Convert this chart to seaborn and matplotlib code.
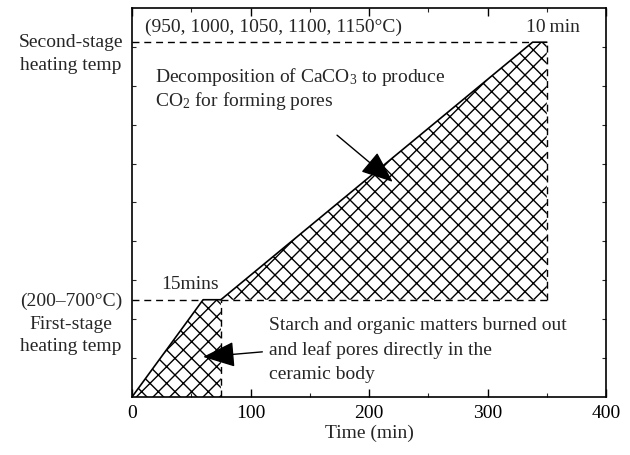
import matplotlib
matplotlib.use("Agg")
import matplotlib.pyplot as plt
import seaborn as sns
import pandas as pd

# ---- data (schematic heating profile) ----
t_stage1 = [0, 60, 75]          # min
T_stage1 = [0, 250, 250]        # schematic temperature level
t_stage2 = [75, 338, 350]
T_stage2 = [250, 912, 912]

x_ticks = [0, 100, 200, 300, 400]
x_minor = [50, 150, 250, 350]
y_ticks = [100, 200, 300, 400, 500, 600, 700, 800, 900]

sns.set_theme(style="ticks")
plt.rcParams["font.family"] = ["Liberation Serif", "DejaVu Serif"]
plt.rcParams["mathtext.fontset"] = "custom"
plt.rcParams["mathtext.rm"] = "Liberation Serif"
plt.rcParams["mathtext.it"] = "Liberation Serif:italic"
plt.rcParams["hatch.linewidth"] = 1.0
plt.rcParams["hatch.color"] = "black"

fig = plt.figure(figsize=(6.3, 4.55), dpi=100)
ax = fig.add_axes([0.2095, 0.1275, 0.7525, 0.855])

# hatched regions
ax.fill_between(t_stage1, 0, T_stage1, facecolor="none", edgecolor="black",
                hatch="xx", linewidth=0)
ax.fill_between(t_stage2, T_stage2[0], T_stage2, facecolor="none",
                edgecolor="black", hatch="xx", linewidth=0)

# solid ramp lines
df1 = pd.DataFrame({"t": t_stage1, "T": T_stage1})
df2 = pd.DataFrame({"t": t_stage2, "T": T_stage2})
sns.lineplot(data=df1, x="t", y="T", ax=ax, color="black", lw=1.2,
             sort=False, estimator=None)
sns.lineplot(data=df2, x="t", y="T", ax=ax, color="black", lw=1.2,
             sort=False, estimator=None)

# dashed guide lines
dash = dict(color="black", lw=1.0, ls=(0, (5, 3.5)))
ax.plot([0, t_stage1[1]], [T_stage1[1], T_stage1[1]], **dash)
ax.plot([t_stage1[2], t_stage1[2]], [0, T_stage1[2]], **dash)
ax.plot([t_stage2[0], t_stage2[2]], [T_stage2[0], T_stage2[0]], **dash)
ax.plot([t_stage2[2], t_stage2[2]], [T_stage2[0], T_stage2[2]], **dash)
ax.plot([0, t_stage2[1]], [T_stage2[1], T_stage2[1]], **dash)

ax.set_xlim(0, 400)
ax.set_ylim(0, 1000)
ax.set_xticks(x_ticks)
ax.set_xticks(x_minor, minor=True)
ax.set_yticks(y_ticks)
ax.set_yticklabels([])
ax.set_xlabel("Time (min)", fontsize=14, labelpad=2)
ax.set_ylabel("")
ax.tick_params(axis="x", which="major", direction="in", length=6, width=1,
               labelsize=14, top=True, pad=6, colors="black")
ax.tick_params(axis="x", which="minor", direction="in", length=3, width=0.8,
               top=True)
ax.tick_params(axis="y", which="major", direction="in", length=3, width=0.8,
               right=True, left=True)
for s in ax.spines.values():
    s.set_linewidth(1.2)
    s.set_color("black")

fs = 14
ax.text(11, 951, "(950, 1000, 1050, 1100, 1150°C)", fontsize=fs,
        ha="left", va="center")
ax.text(378, 951, "10\u2009min", fontsize=fs, ha="right", va="center")
ax.text(49, 288, "15mins", fontsize=fs, ha="center", va="center")

ax.text(19, 792, "Decomposition of CaCO$_3$ to produce\nCO$_2$ for forming pores",
        fontsize=fs, ha="left", va="center", linespacing=1.1)
ax.text(116, 121, "Starch and organic matters burned out\nand leaf pores directly in the\nceramic body",
        fontsize=fs, ha="left", va="center", linespacing=1.5)

ax.text(-51.5, 882, "Second-stage\nheating temp", fontsize=fs, ha="center",
        va="center", linespacing=1.45, clip_on=False)
ax.text(-51.5, 188, "(200\u2013700°C)\nFirst-stage\nheating temp", fontsize=fs,
        ha="center", va="center", linespacing=1.46, clip_on=False)

arrow = dict(arrowstyle="-|>,head_length=1.0,head_width=0.4", color="black",
             lw=1.0, shrinkA=0, shrinkB=0, mutation_scale=20)
ax.annotate("", xy=(220, 553), xytext=(173, 673), arrowprops=arrow)
ax.annotate("", xy=(60, 103), xytext=(110, 116), arrowprops=arrow)

fig.savefig("out.png", dpi=100)
